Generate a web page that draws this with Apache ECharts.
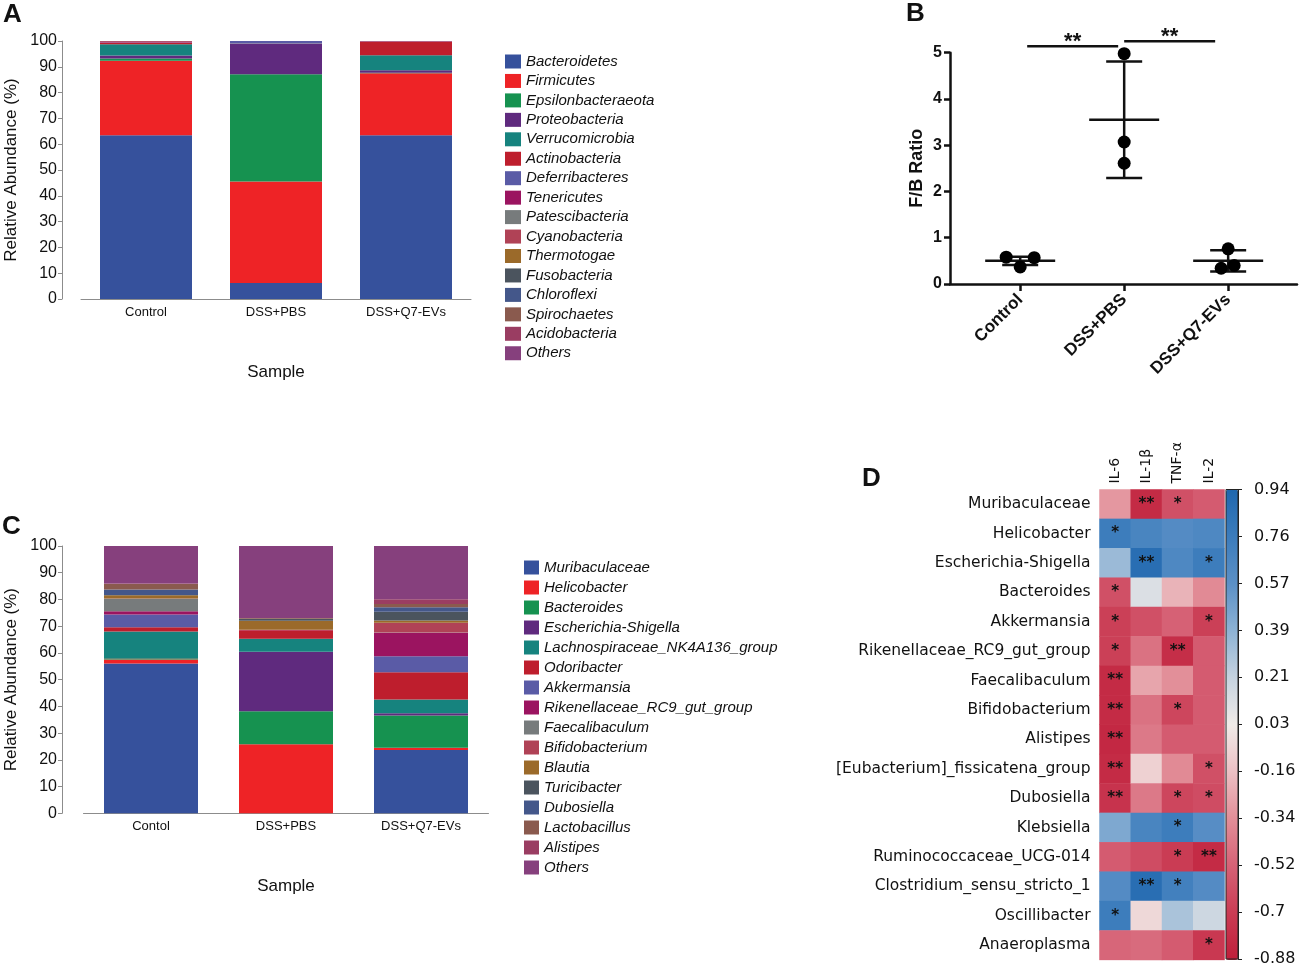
<!DOCTYPE html>
<html>
<head>
<meta charset="utf-8">
<script src="https://cdn.jsdelivr.net/npm/echarts@6/dist/echarts.min.js"></script>
<style>
html,body{margin:0;padding:0;background:#fff;}
#main{width:1299px;height:967px;}
</style>
</head>
<body>
<div id="main"></div>
<script>
// ---------- Panel A: phylum level ----------
const groupsA = ['Control', 'DSS+PBS', 'DSS+Q7-EVs'];
const phyla = ['Bacteroidetes','Firmicutes','Epsilonbacteraeota','Proteobacteria','Verrucomicrobia','Actinobacteria','Deferribacteres','Tenericutes','Patescibacteria','Cyanobacteria','Thermotogae','Fusobacteria','Chloroflexi','Spirochaetes','Acidobacteria','Others'];
const phylaControl = [63.5, 28.8, 0.9, 1.2, 4.3, 0.6, 0.1, 0.5, 0.02, 0.02, 0.02, 0.02, 0.02, 0.02, 0.02, 0.0];
const phylaPBS     = [6.2, 39.3, 41.6, 11.7, 0.1, 0.1, 1.0, 0.0, 0, 0, 0, 0, 0, 0, 0, 0];
const phylaQ7      = [63.5, 24.0, 0.2, 1.0, 5.8, 5.3, 0.1, 0.1, 0, 0, 0, 0, 0, 0, 0, 0];

// ---------- Panel B: F/B ratio ----------
const fbGroups = ['Control', 'DSS+PBS', 'DSS+Q7-EVs'];
const fbControl = [0.58, 0.57, 0.37];
const fbPBS     = [4.98, 3.07, 2.61];
const fbQ7      = [0.76, 0.34, 0.40];
const fbMean    = [0.50, 3.55, 0.50];
const fbSD      = [0.09, 1.26, 0.23];
const sigPairs  = [[0, 1], [1, 2]];
const sigHeights = [5.14, 5.25];
const sigLabels = ['**', '**'];

// ---------- Panel C: genus level ----------
const groupsC = ['Contol', 'DSS+PBS', 'DSS+Q7-EVs'];
const genera = ['Muribaculaceae','Helicobacter','Bacteroides','Escherichia-Shigella','Lachnospiraceae_NK4A136_group','Odoribacter','Akkermansia','Rikenellaceae_RC9_gut_group','Faecalibaculum','Bifidobacterium','Blautia','Turicibacter','Dubosiella','Lactobacillus','Alistipes','Others'];
const genusControl = [56.0, 1.5, 0.5, 0.1, 9.9, 1.6, 4.8, 1.2, 4.7, 0.1, 1.2, 0.1, 2.0, 2.1, 0.2, 14.0];
const genusPBS     = [0, 25.8, 12.4, 22.2, 4.9, 3.2, 0, 0.1, 0, 0.1, 3.3, 0.8, 0, 0.3, 0, 26.9];
const genusQ7      = [23.7, 0.8, 12.1, 0.8, 5.2, 10.2, 6.0, 8.7, 0.1, 3.7, 0.8, 3.3, 1.7, 1.2, 1.8, 19.9];

// ---------- Panel D: correlation heatmap ----------
const cytokines = ['IL-6', 'IL-1β', 'TNF-α', 'IL-2'];
const heatRows = ['Muribaculaceae','Helicobacter','Escherichia-Shigella','Bacteroides','Akkermansia','Rikenellaceae_RC9_gut_group','Faecalibaculum','Bifidobacterium','Alistipes','[Eubacterium]_fissicatena_group','Dubosiella','Klebsiella','Ruminococcaceae_UCG-014','Clostridium_sensu_stricto_1','Oscillibacter','Anaeroplasma'];
const corrIL6  = [-0.30, 0.75, 0.35, -0.60, -0.68, -0.68, -0.80, -0.80, -0.82, -0.80, -0.75, 0.45, -0.55, 0.62, 0.75, -0.50];
const corrIL1b = [-0.80, 0.68, 0.88, 0.12, -0.60, -0.45, -0.25, -0.45, -0.42, -0.08, -0.42, 0.68, -0.62, 0.88, -0.05, -0.48];
const corrTNF  = [-0.60, 0.62, 0.65, -0.20, -0.52, -0.78, -0.33, -0.65, -0.55, -0.35, -0.65, 0.75, -0.70, 0.72, 0.30, -0.55];
const corrIL2  = [-0.55, 0.65, 0.75, -0.35, -0.68, -0.55, -0.55, -0.55, -0.55, -0.60, -0.62, 0.60, -0.80, 0.62, 0.18, -0.72];
const starsIL6  = ['', '*', '', '*', '*', '*', '**', '**', '**', '**', '**', '', '', '', '*', ''];
const starsIL1b = ['**', '', '**', '', '', '', '', '', '', '', '', '', '', '**', '', ''];
const starsTNF  = ['*', '', '', '', '', '**', '', '*', '', '', '*', '*', '*', '*', '', ''];
const starsIL2  = ['', '', '*', '', '*', '', '', '', '', '*', '*', '', '**', '', '', '*'];
const cbTicks = ['-0.88', '-0.7', '-0.52', '-0.34', '-0.16', '0.03', '0.21', '0.39', '0.57', '0.76', '0.94'];
const corrMin = -0.88, corrMax = 0.94;

// ---------- styles ----------
const palette = ['#36519c','#ee2326','#169250','#5f2a7e','#16837e','#be1e2d','#5a5ba6','#9b1460','#777b7c','#b04256','#9b6a2a','#4b545e','#44578a','#8a5a4e','#9a3d62','#86407d'];
const heatColors = ['#bf1e3a','#ca3c54','#d66276','#e28e98','#ecc0c4','#f0ebe8','#c6d3e0','#8db2d4','#5b90c6','#3c7cbc','#1f67ae'];
const jitterPx = [[-14, 14, 0], [0, 0, 0], [0, -7, 6]];
const sansA = 'Liberation Sans, Arial, sans-serif';
const sansD = 'DejaVu Sans, sans-serif';
const grayAxis = '#8c8c8c';

const chart = echarts.init(document.getElementById('main'), null, {renderer: 'canvas'});

const series = [];
phyla.forEach((name, i) => {
  series.push({
    name: name, type: 'bar', stack: 'A', xAxisIndex: 0, yAxisIndex: 0,
    barWidth: 92, itemStyle: {color: palette[i]},
    data: [phylaControl[i], phylaPBS[i], phylaQ7[i]], animation: false
  });
});
genera.forEach((name, i) => {
  series.push({
    name: name, type: 'bar', stack: 'C', xAxisIndex: 2, yAxisIndex: 2,
    barWidth: 94, itemStyle: {color: palette[i]},
    data: [genusControl[i], genusPBS[i], genusQ7[i]], animation: false
  });
});

// Panel B
const fbSets = [fbControl, fbPBS, fbQ7];
const fbPoints = [];
fbSets.forEach((arr, g) => {
  arr.forEach((v, k) => {
    fbPoints.push({value: [g, v], symbolOffset: [jitterPx[g][k], 0]});
  });
});

series.push({
  type: 'custom', xAxisIndex: 1, yAxisIndex: 1, clip: false, animation: false, z: 3,
  data: fbMean.map((m, i) => [i, m, fbSD[i]]),
  renderItem: function (params, api) {
    const x = api.value(0), m = api.value(1), sd = api.value(2);
    const c = api.coord([x, m]);
    const up = api.coord([x, m + sd]);
    const lo = api.coord([x, m - sd]);
    const st = {stroke: '#111', lineWidth: 2.5};
    return {type: 'group', children: [
      {type: 'line', shape: {x1: c[0] - 35, y1: c[1], x2: c[0] + 35, y2: c[1]}, style: st},
      {type: 'line', shape: {x1: c[0], y1: up[1], x2: c[0], y2: lo[1]}, style: st},
      {type: 'line', shape: {x1: c[0] - 18, y1: up[1], x2: c[0] + 18, y2: up[1]}, style: st},
      {type: 'line', shape: {x1: c[0] - 18, y1: lo[1], x2: c[0] + 18, y2: lo[1]}, style: st}
    ]};
  }
});
series.push({
  type: 'scatter', xAxisIndex: 1, yAxisIndex: 1, clip: false, animation: false, z: 4,
  symbolSize: 13, itemStyle: {color: '#000', opacity: 1}, data: fbPoints,
  emphasis: {disabled: true}
});
series.push({
  type: 'custom', xAxisIndex: 1, yAxisIndex: 1, clip: false, animation: false,
  data: sigPairs.map((p, i) => [p[0], p[1], sigHeights[i]]),
  renderItem: function (params, api) {
    const p0 = api.coord([api.value(0), api.value(2)]);
    const p1 = api.coord([api.value(1), api.value(2)]);
    const a = p0[0] + (params.dataIndex === 0 ? 7 : 0);
    const b = p1[0] - (params.dataIndex === 0 ? 6 : 13);
    return {type: 'group', children: [
      {type: 'line', shape: {x1: a, y1: p0[1], x2: b, y2: p0[1]}, style: {stroke: '#111', lineWidth: 2.5}},
      {type: 'text', x: (a + b) / 2, y: p0[1] - 4, style: {text: sigLabels[params.dataIndex], fill: '#111', font: 'bold 22px ' + sansA, align: 'center', verticalAlign: 'middle'}}
    ]};
  }
});

// Panel D heatmap
const corrCols = [corrIL6, corrIL1b, corrTNF, corrIL2];
const starCols = [starsIL6, starsIL1b, starsTNF, starsIL2];
const heatData = [], starsFlat = [];
corrCols.forEach((col, c) => {
  col.forEach((v, r) => { heatData.push([c, r, v]); starsFlat.push(starCols[c][r]); });
});
series.push({
  type: 'heatmap', xAxisIndex: 3, yAxisIndex: 3, animation: false,
  data: heatData,
  label: {show: true, color: '#111', fontSize: 15, fontFamily: sansD, fontWeight: 'bold',
    formatter: p => starsFlat[p.dataIndex]},
  emphasis: {disabled: true}
});
const heatSeriesIndex = series.length - 1;

const catAxisStyle = (labels, grid, fs, margin) => ({
  type: 'category', gridIndex: grid, data: labels,
  axisLine: {show: true, lineStyle: {color: grayAxis, width: 1}},
  axisTick: {show: false},
  axisLabel: {color: '#111', fontSize: fs, fontFamily: sansA, margin: margin},
  name: 'Sample', nameLocation: 'middle', nameGap: 65,
  nameTextStyle: {color: '#111', fontSize: 17, fontFamily: sansA}
});
const pctAxis = (grid, offset) => ({
  type: 'value', gridIndex: grid, min: 0, max: 100, interval: 10, offset: offset,
  axisLine: {show: true, onZero: false, lineStyle: {color: grayAxis, width: 1}},
  axisTick: {show: true, length: 4, lineStyle: {color: grayAxis}},
  splitLine: {show: false},
  axisLabel: {color: '#111', fontSize: 16, fontFamily: sansA, margin: 5},
  name: 'Relative Abundance (%)', nameLocation: 'middle', nameGap: 42,
  nameTextStyle: {color: '#111', fontSize: 17, fontFamily: sansA}
});

const option = {
  backgroundColor: '#fff',
  animation: false,
  grid: [
    {left: 81, top: 41, width: 390, height: 258},
    {left: 950, top: 52.7, width: 347, height: 231.3},
    {left: 83.5, top: 546, width: 405, height: 267.3},
    {left: 1099.5, top: 489.5, width: 125, height: 470.4},
    {left: 1226, top: 489.5, width: 12, height: 470.4, show: true, borderColor: '#222', borderWidth: 1, backgroundColor: 'transparent', z: 10}
  ],
  xAxis: [
    catAxisStyle(groupsA, 0, 13, 7),
    {
      type: 'value', gridIndex: 1, min: -0.675, max: 2.662,
      axisLine: {show: true, onZero: false, lineStyle: {color: '#111', width: 2.5}},
      axisTick: {show: true, customValues: [0, 1, 2], length: 7, lineStyle: {color: '#111', width: 2.5}},
      axisLabel: {customValues: [0, 1, 2], formatter: v => fbGroups[Math.round(v)], rotate: 45,
        color: '#111', fontSize: 17, fontWeight: 'bold', fontFamily: sansA, margin: 13},
      splitLine: {show: false}
    },
    catAxisStyle(groupsC, 2, 13, 7),
    {
      type: 'category', gridIndex: 3, data: cytokines, position: 'top',
      axisLine: {show: false}, axisTick: {show: false},
      axisLabel: {rotate: -90, color: '#111', fontSize: 14, fontFamily: sansD, margin: 6}
    },
    {type: 'value', gridIndex: 4, show: false}
  ],
  yAxis: [
    pctAxis(0, 19),
    {
      type: 'value', gridIndex: 1, min: 0, max: 5, interval: 1,
      axisLine: {show: true, onZero: false, lineStyle: {color: '#111', width: 2.5}},
      axisTick: {show: true, length: 6, lineStyle: {color: '#111', width: 2.5}},
      splitLine: {show: false},
      axisLabel: {color: '#111', fontSize: 16, fontWeight: 'bold', fontFamily: sansA, margin: 8},
      name: 'F/B Ratio', nameLocation: 'middle', nameGap: 24,
      nameTextStyle: {color: '#111', fontSize: 18, fontWeight: 'bold', fontFamily: sansA}
    },
    pctAxis(2, 21.5),
    {
      type: 'category', gridIndex: 3, data: heatRows, inverse: true,
      axisLine: {show: false}, axisTick: {show: false},
      axisLabel: {color: '#111', fontSize: 15.5, fontFamily: sansD, margin: 9}
    },
    {
      type: 'value', gridIndex: 4, min: 0, max: 10, interval: 1, position: 'right',
      axisLine: {show: true, onZero: false, lineStyle: {color: '#222', width: 1}},
      axisTick: {show: true, length: 4, lineStyle: {color: '#222'}},
      splitLine: {show: false},
      axisLabel: {formatter: v => cbTicks[Math.round(v)], color: '#111', fontSize: 16, fontFamily: sansD, margin: 16}
    }
  ],
  visualMap: {
    type: 'continuous', min: corrMin, max: corrMax, dimension: 2,
    seriesIndex: heatSeriesIndex, orient: 'vertical',
    left: 1226, top: 489.5, itemWidth: 12, itemHeight: 470.4, padding: 0,
    calculable: false, hoverLink: false, text: null, showLabel: false,
    inRange: {color: heatColors}
  },
  legend: [
    {
      data: phyla, orient: 'vertical', left: 505, top: 54, padding: 0,
      icon: 'rect', itemWidth: 16, itemHeight: 14, itemGap: 4.45, selectedMode: false,
      textStyle: {fontStyle: 'italic', fontSize: 15, color: '#111', fontFamily: sansA}
    },
    {
      data: genera, orient: 'vertical', left: 524, top: 560, padding: 0,
      icon: 'rect', itemWidth: 15, itemHeight: 14, itemGap: 5, selectedMode: false,
      textStyle: {fontStyle: 'italic', fontSize: 15, color: '#111', fontFamily: sansA}
    }
  ],
  graphic: [
    {type: 'text', left: 3, top: 2, style: {text: 'A', font: 'bold 26px ' + sansA, fill: '#111'}},
    {type: 'text', left: 906, top: 1, style: {text: 'B', font: 'bold 26px ' + sansA, fill: '#111'}},
    {type: 'text', left: 2, top: 514, style: {text: 'C', font: 'bold 26px ' + sansA, fill: '#111'}},
    {type: 'text', left: 862, top: 466, style: {text: 'D', font: 'bold 26px ' + sansA, fill: '#111'}}
  ],
  series: series
};
chart.setOption(option);
</script>
</body>
</html>
